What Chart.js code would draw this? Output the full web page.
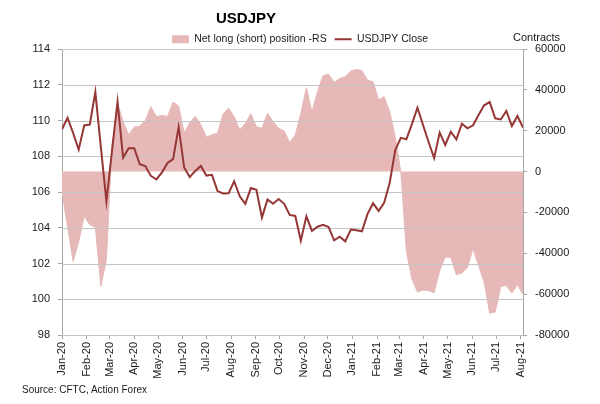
<!DOCTYPE html>
<html>
<head>
<meta charset="utf-8">
<script src="https://cdn.jsdelivr.net/npm/chart.js@4.4.1/dist/chart.umd.min.js"></script>
<style>
html,body{margin:0;padding:0;background:#fff;}
#wrap{position:relative;width:600px;height:404px;font-family:"Liberation Sans",Arial,sans-serif;color:#1a1a1a;overflow:hidden;}
#c{position:absolute;left:0;top:0;}
.t{position:absolute;white-space:nowrap;line-height:1;}
#title{left:246px;top:17px;transform:translate(-50%,-50%);font-size:15px;font-weight:bold;color:#000;}
#contracts{left:513px;top:37px;transform:translateY(-50%);font-size:11px;}
#source{left:22px;top:390px;transform:translateY(-50%);font-size:10px;}
</style>
</head>
<body>
<div id="wrap">
<canvas id="c" width="600" height="404"></canvas>
<div class="t" id="title">USDJPY</div>
<div class="t" id="contracts">Contracts</div>
<div class="t" id="source">Source: CFTC, Action Forex</div>
</div>
<script>
// weekly observation dates (categories)
const weekDates = [
"2020-01-07","2020-01-14","2020-01-21","2020-01-28","2020-02-04","2020-02-11","2020-02-18","2020-02-25",
"2020-03-03","2020-03-10","2020-03-17","2020-03-24","2020-03-31","2020-04-07","2020-04-14","2020-04-21",
"2020-04-28","2020-05-05","2020-05-12","2020-05-19","2020-05-26","2020-06-02","2020-06-09","2020-06-16",
"2020-06-23","2020-06-30","2020-07-07","2020-07-14","2020-07-21","2020-07-28","2020-08-04","2020-08-11",
"2020-08-18","2020-08-25","2020-09-01","2020-09-08","2020-09-15","2020-09-22","2020-09-29","2020-10-06",
"2020-10-13","2020-10-20","2020-10-27","2020-11-03","2020-11-10","2020-11-17","2020-11-24","2020-12-01",
"2020-12-08","2020-12-15","2020-12-22","2020-12-29","2021-01-05","2021-01-12","2021-01-19","2021-01-26",
"2021-02-02","2021-02-09","2021-02-16","2021-02-23","2021-03-02","2021-03-09","2021-03-16","2021-03-23",
"2021-03-30","2021-04-06","2021-04-13","2021-04-20","2021-04-27","2021-05-04","2021-05-11","2021-05-18",
"2021-05-25","2021-06-01","2021-06-08","2021-06-15","2021-06-22","2021-06-29","2021-07-06","2021-07-13",
"2021-07-20","2021-07-27","2021-08-03","2021-08-10"
];

// USDJPY close (left scale)
const usdjpyClose = [
109.5,110.15,109.3,108.37,109.72,109.77,111.6,108.5,105.47,108.3,
111.05,107.92,108.45,108.45,107.55,107.45,106.9,106.7,107.1,107.62,
107.84,109.63,107.37,106.84,107.18,107.46,106.92,106.96,106.05,105.92,
105.93,106.6,105.76,105.34,106.22,106.12,104.57,105.58,105.34,105.61,
105.34,104.72,104.66,103.28,104.64,103.82,104.06,104.16,104.04,103.3,
103.5,103.24,103.9,103.86,103.8,104.76,105.37,104.94,105.4,106.52,
108.35,109.03,108.95,109.8,110.72,109.75,108.8,107.9,109.32,108.63,
109.37,108.94,109.82,109.56,109.73,110.31,110.85,111.03,110.12,110.06,
110.53,109.69,110.25,109.6
];

// Net long (short) position, contracts (right scale)
const netPosition = [
-10000,-27000,-44000,-34500,-22000,-26000,-27300,-56300,-43000,12000,
33400,24500,18000,21800,22300,25000,31800,26900,27500,27000,
34000,32100,19000,24000,27000,23000,16800,18000,18800,28200,
31000,26900,20400,23500,28300,22000,21200,28500,24500,21200,
19900,14200,17900,28500,41100,29300,39100,47000,47600,43700,
45600,46500,49200,50000,49400,44800,44000,35000,36700,29300,
17100,0,-39000,-52600,-59000,-58000,-58300,-59300,-48600,-41800,
-42000,-50500,-49700,-47000,-37700,-46000,-54200,-69300,-68800,-56200,
-55800,-59500,-55400,-60200
];

// x-axis month ticks
const monthTickDates = [
"2020-01-07","2020-02-07","2020-03-07","2020-04-07","2020-05-07","2020-06-07","2020-07-07","2020-08-07",
"2020-09-07","2020-10-07","2020-11-07","2020-12-07","2021-01-07","2021-02-07","2021-03-07","2021-04-07",
"2021-05-07","2021-06-07","2021-07-07","2021-08-07"
];
const monthTickLabels = [
"Jan-20","Feb-20","Mar-20","Apr-20","May-20","Jun-20","Jul-20","Aug-20","Sep-20","Oct-20","Nov-20","Dec-20",
"Jan-21","Feb-21","Mar-21","Apr-21","May-21","Jun-21","Jul-21","Aug-21"
];

const seriesNames = ["Net long (short) position -RS", "USDJPY Close"];

const FONT = '"Liberation Sans", Arial, sans-serif';
const TEXT = '#1a1a1a';
const AXIS = '#a6a6a6';
const GRID = '#c4c4c4';
const LINE = '#953735';
const AREA = '#e6b9b8';

const DAY = 86400000;
const t0 = Date.parse(weekDates[0]);
const toDay = d => (Date.parse(d) - t0) / DAY;
const xDays = weekDates.map(toDay);
const tickDays = monthTickDates.map(toDay);

const areaPoints = xDays.map((x, i) => ({x, y: netPosition[i]}));
const linePoints = xDays.map((x, i) => ({x, y: usdjpyClose[i]}));

// horizontal gridlines of the left axis, painted over the area but under the line
const gridOverArea = {
  id: 'gridOverArea',
  afterDatasetDraw(chart, args) {
    if (args.index !== 0) return;
    const {ctx, chartArea: a} = chart;
    const ys = chart.scales.y;
    ctx.save();
    ctx.strokeStyle = GRID;
    ctx.lineWidth = 1;
    ctx.beginPath();
    ys.ticks.forEach(t => {
      const py = Math.round(ys.getPixelForValue(t.value)) + 0.5;
      ctx.moveTo(a.left, py);
      ctx.lineTo(a.right, py);
    });
    ctx.stroke();
    ctx.restore();
  }
};

Chart.defaults.font.family = FONT;
Chart.defaults.color = TEXT;

new Chart(document.getElementById('c'), {
  type: 'line',
  data: {
    datasets: [
      {
        label: seriesNames[0],
        data: areaPoints,
        yAxisID: 'y1',
        order: 2,
        fill: 'origin',
        backgroundColor: AREA,
        borderColor: AREA,
        borderWidth: 1,
        pointRadius: 0,
        pointStyle: 'rect',
        pointBackgroundColor: AREA,
        pointBorderWidth: 0,
        tension: 0
      },
      {
        label: seriesNames[1],
        data: linePoints,
        yAxisID: 'y',
        order: 1,
        fill: false,
        borderColor: LINE,
        backgroundColor: LINE,
        borderWidth: 2,
        pointRadius: 0,
        pointStyle: 'line',
        pointBorderColor: LINE,
        pointBorderWidth: 2,
        tension: 0
      }
    ]
  },
  options: {
    responsive: false,
    animation: false,
    events: [],
    layout: {padding: {top: 26, left: 0, right: 0, bottom: 0}},
    plugins: {
      title: {display: false},
      tooltip: {enabled: false},
      legend: {
        display: true,
        position: 'top',
        maxHeight: 23,
        labels: {
          usePointStyle: true,
          pointStyleWidth: 17,
          boxHeight: 8,
          padding: 8,
          color: TEXT,
          font: {size: 10.5, family: FONT},
          sort: (a, b) => a.datasetIndex - b.datasetIndex
        }
      }
    },
    scales: {
      x: {
        type: 'linear',
        min: xDays[0],
        max: xDays[xDays.length - 1],
        afterBuildTicks: s => { s.ticks = tickDays.map(v => ({value: v})); },
        afterFit: s => { s.height = 69; },
        ticks: {
          autoSkip: false,
          minRotation: 90,
          maxRotation: 90,
          padding: 3,
          color: TEXT,
          font: {size: 11, family: FONT},
          callback: v => monthTickLabels[tickDays.indexOf(v)]
        },
        grid: {display: true, drawOnChartArea: false, drawTicks: true, tickLength: 4, color: AXIS},
        border: {display: true, color: AXIS, width: 1}
      },
      y: {
        position: 'left',
        min: 98,
        max: 114,
        afterFit: s => { s.width = 62; },
        ticks: {stepSize: 2, padding: 8, color: TEXT, font: {size: 11, family: FONT}},
        grid: {display: true, drawOnChartArea: false, drawTicks: true, tickLength: 4, color: AXIS},
        border: {display: true, color: AXIS, width: 1}
      },
      y1: {
        position: 'right',
        min: -80000,
        max: 60000,
        afterFit: s => { s.width = 77; },
        ticks: {stepSize: 20000, padding: 8, color: TEXT, font: {size: 11, family: FONT}, callback: v => String(v)},
        grid: {display: true, drawOnChartArea: false, drawTicks: true, tickLength: 4, color: AXIS},
        border: {display: true, color: AXIS, width: 1}
      }
    }
  },
  plugins: [gridOverArea]
});
</script>
</body>
</html>
